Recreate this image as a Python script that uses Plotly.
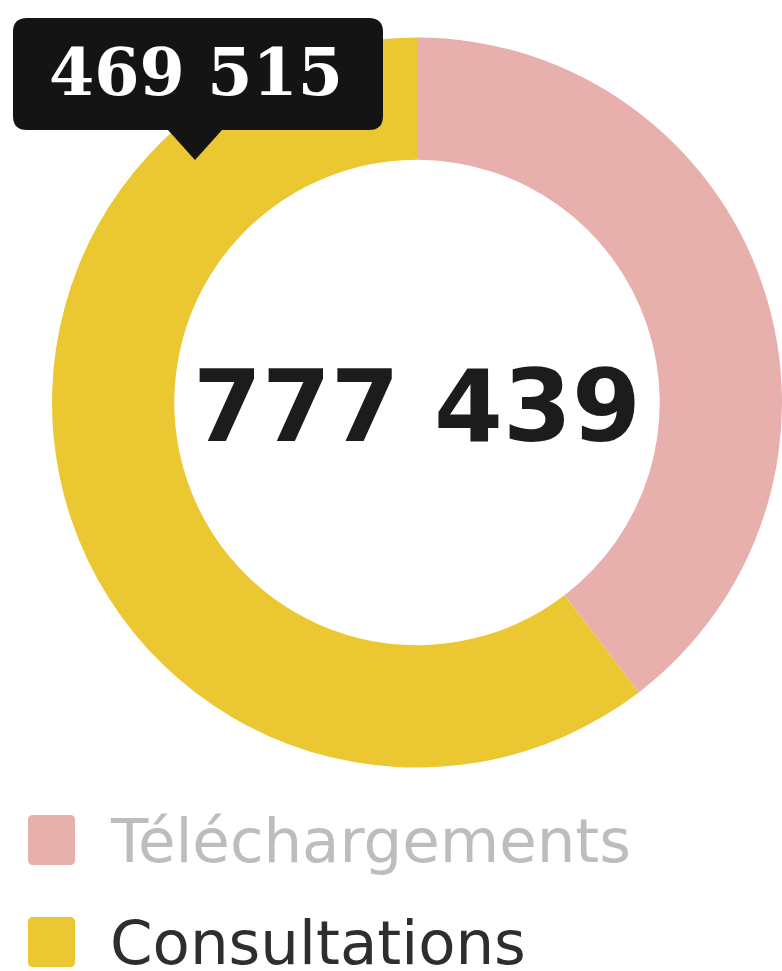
import plotly.graph_objects as go

# Data
categories = ["Téléchargements", "Consultations"]
values = [307924, 469515]
colors = ["#E8B0AC", "#EBC832"]
total_label = "777 439"
tooltip_label = "469 515"
legend_text_colors = ["#BDBDBD", "#2E2E2E"]

W, H = 782, 971

def px(x):
    return x / W

def py(y):
    return 1 - y / H

fig = go.Figure()
fig.add_trace(go.Pie(
    labels=categories,
    values=values,
    marker=dict(colors=colors, line=dict(width=0)),
    hole=0.665,
    sort=False,
    direction="clockwise",
    rotation=0,
    textinfo="none",
    hoverinfo="skip",
    domain=dict(x=[px(52), 1.0], y=[py(768), py(37)]),
    showlegend=False,
))

shapes = []
annotations = []

# Center total
annotations.append(dict(
    x=px(417), y=py(407), xref="paper", yref="paper",
    text=f"<b>{total_label}</b>", showarrow=False,
    font=dict(family="DejaVu Sans", size=99, color="#1C1C1C"),
    xanchor="center", yanchor="middle",
))

# Tooltip box with rounded corners and pointer
x0, x1, y0, y1, r = 13, 383, 18, 130, 14
tip_l, tip_r, tip_x, tip_y = 168, 222, 195, 160
pts = [
    f"M {px(x0 + r)},{py(y0)}",
    f"L {px(x1 - r)},{py(y0)}",
    f"Q {px(x1)},{py(y0)} {px(x1)},{py(y0 + r)}",
    f"L {px(x1)},{py(y1 - r)}",
    f"Q {px(x1)},{py(y1)} {px(x1 - r)},{py(y1)}",
    f"L {px(tip_r)},{py(y1)}",
    f"L {px(tip_x)},{py(tip_y)}",
    f"L {px(tip_l)},{py(y1)}",
    f"L {px(x0 + r)},{py(y1)}",
    f"Q {px(x0)},{py(y1)} {px(x0)},{py(y1 - r)}",
    f"L {px(x0)},{py(y0 + r)}",
    f"Q {px(x0)},{py(y0)} {px(x0 + r)},{py(y0)}",
    "Z",
]
shapes.append(dict(type="path", xref="paper", yref="paper", path=" ".join(pts),
                   fillcolor="#141414", line=dict(width=0)))
annotations.append(dict(
    x=px(196), y=py(72), xref="paper", yref="paper",
    text=f"<b>{tooltip_label}</b>", showarrow=False,
    font=dict(family="DejaVu Serif", size=65, color="#FFFFFF"),
    xanchor="center", yanchor="middle",
))

# Custom legend with slightly rounded squares
legend_rows = [840, 942]
for i, (cat, col) in enumerate(zip(categories, colors)):
    yc = legend_rows[i]
    sx0, sx1, sy0, sy1, sr = 28, 75, yc - 25, yc + 25, 5
    sq = [
        f"M {px(sx0 + sr)},{py(sy0)}",
        f"L {px(sx1 - sr)},{py(sy0)}",
        f"Q {px(sx1)},{py(sy0)} {px(sx1)},{py(sy0 + sr)}",
        f"L {px(sx1)},{py(sy1 - sr)}",
        f"Q {px(sx1)},{py(sy1)} {px(sx1 - sr)},{py(sy1)}",
        f"L {px(sx0 + sr)},{py(sy1)}",
        f"Q {px(sx0)},{py(sy1)} {px(sx0)},{py(sy1 - sr)}",
        f"L {px(sx0)},{py(sy0 + sr)}",
        f"Q {px(sx0)},{py(sy0)} {px(sx0 + sr)},{py(sy0)}",
        "Z",
    ]
    shapes.append(dict(type="path", xref="paper", yref="paper", path=" ".join(sq),
                       fillcolor=col, line=dict(width=0)))
    annotations.append(dict(
        x=px(108), y=py(yc), xref="paper", yref="paper",
        text=cat, showarrow=False,
        font=dict(family="DejaVu Sans", size=61, color=legend_text_colors[i]),
        xanchor="left", yanchor="middle",
    ))

fig.update_layout(
    width=W, height=H,
    margin=dict(l=0, r=0, t=0, b=0),
    paper_bgcolor="white",
    plot_bgcolor="white",
    showlegend=False,
    shapes=shapes,
    annotations=annotations,
)

fig.write_html("out.html")
